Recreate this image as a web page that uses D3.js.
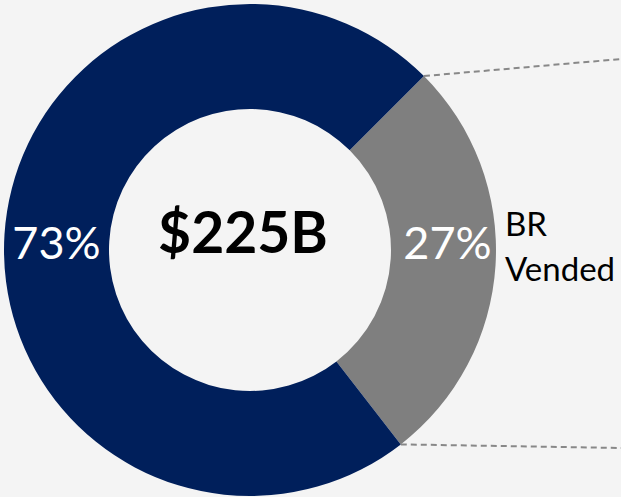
<!DOCTYPE html>
<html>
<head>
<meta charset="utf-8">
<script src="https://cdn.jsdelivr.net/npm/d3@7"></script>
<style>
  html, body { margin: 0; padding: 0; background: #f4f4f4; overflow: hidden; }
  svg { display: block; }
</style>
</head>
<body>
<div id="chart"></div>
<script>
const categories = ['BR Vended', 'Other']
const shares = [27, 73]
const pctLabels = ['27%', '73%']
const legendLines = [['BR', 'Vended'], []]
const totalLabel = '$225B'

const width = 621
const height = 497
const cx = 250
const cy = 250
const OUTER_R = 246
const INNER_R = 141
const FONT = 'Lato, "Open Sans", sans-serif'
const colors = d3.scaleOrdinal().domain(categories).range(['#7f7f7f', '#001f5b'])

const svg = d3.select('#chart')
  .append('svg')
  .attr('width', width)
  .attr('height', height)

svg.append('rect').attr('width', width).attr('height', height).attr('fill', '#f4f4f4')

const pie = d3.pie().sort(null).value(d => d.value)
  .startAngle(Math.PI / 4).endAngle(Math.PI / 4 + 2 * Math.PI)
const arcs = pie(categories.map((c, i) => ({name: c, value: shares[i], pct: pctLabels[i], legend: legendLines[i]})))

const arc = d3.arc().innerRadius(INNER_R).outerRadius(OUTER_R)
const midR = (INNER_R + OUTER_R) / 2

const g = svg.append('g').attr('transform', `translate(${cx}, ${cy})`)

g.selectAll('path.slice')
  .data(arcs)
  .enter()
  .append('path')
  .classed('slice', true)
  .attr('d', arc)
  .attr('fill', d => colors(d.data.name))

// dashed leader lines from the BR Vended slice edges to the right border
const br = arcs[0]
const edgePts = [br.startAngle, br.endAngle].map(a => [OUTER_R * Math.sin(a), -OUTER_R * Math.cos(a)])
const ends = [[width - cx, 59 - cy], [width - cx, 448 - cy]]
g.selectAll('line.leader')
  .data(edgePts)
  .enter()
  .append('line')
  .classed('leader', true)
  .attr('x1', d => d[0]).attr('y1', d => d[1])
  .attr('x2', (d, i) => ends[i][0]).attr('y2', (d, i) => ends[i][1])
  .attr('stroke', '#888').attr('stroke-width', 2).attr('stroke-dasharray', '6,4')

// percentage labels sit on the horizontal axis, mid ring
g.selectAll('text.pct')
  .data(arcs)
  .enter()
  .append('text')
  .classed('pct', true)
  .attr('x', d => ((d.startAngle + d.endAngle) / 2 % (2 * Math.PI)) < Math.PI ? midR + 4 : -midR)
  .attr('y', -7)
  .attr('dy', '0.35em')
  .attr('text-anchor', 'middle')
  .attr('font-family', FONT).attr('font-size', 45).attr('fill', '#ffffff')
  .text(d => d.data.pct)

g.append('text')
  .attr('x', -7).attr('y', 3)
  .attr('text-anchor', 'middle')
  .attr('font-family', FONT).attr('font-size', 57).attr('font-weight', 'bold').attr('fill', '#000')
  .text(totalLabel)

const legend = svg.append('text')
  .attr('font-family', FONT).attr('font-size', 33).attr('fill', '#000')
legend.selectAll('tspan')
  .data(br.data.legend)
  .enter()
  .append('tspan')
  .attr('x', 505)
  .attr('y', (d, i) => 236 + i * 45)
  .text(d => d)
</script>
</body>
</html>
